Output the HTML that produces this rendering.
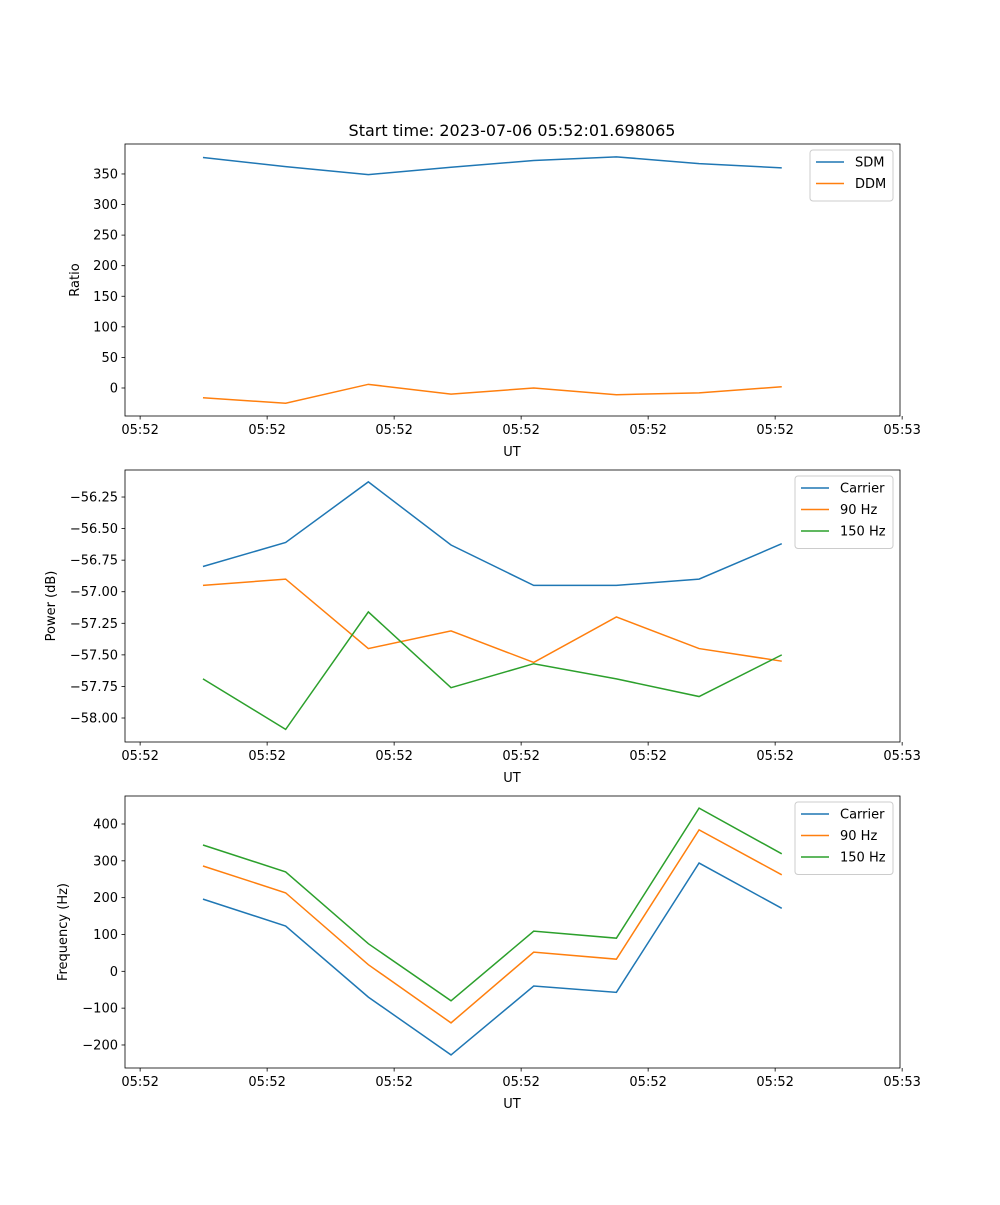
<!DOCTYPE html>
<html><head><meta charset="utf-8"><style>
body{margin:0;background:#fff;font-family:"Liberation Sans","DejaVu Sans",sans-serif;}
svg text{font-family:"DejaVu Sans","Liberation Sans",sans-serif;font-size:13px;fill:#000;}
</style></head><body>
<svg id="fig" width="1000" height="1200" xmlns="http://www.w3.org/2000/svg"></svg>
<script>
const xTickLabels=["05:52","05:52","05:52","05:52","05:52","05:52","05:53"];
const sdm=[377,362,349,361,372,378,367,360];
const ddm=[-16,-25,6,-10,0,-11,-8,2];
const pCarrier=[-56.80,-56.61,-56.13,-56.63,-56.95,-56.95,-56.90,-56.62];
const p90=[-56.95,-56.90,-57.45,-57.31,-57.56,-57.20,-57.45,-57.55];
const p150=[-57.69,-58.09,-57.16,-57.76,-57.57,-57.69,-57.83,-57.50];
const fCarrier=[196,123,-70,-227,-40,-57,294,171];
const f90=[286,213,18,-140,52,33,384,262];
const f150=[343,270,75,-80,109,90,443,319];
const ticks1=[0,50,100,150,200,250,300,350];
const ticks2=[-58.00,-57.75,-57.50,-57.25,-57.00,-56.75,-56.50,-56.25];
const ticks3=[-200,-100,0,100,200,300,400];
const NS="http://www.w3.org/2000/svg";
const svg=document.getElementById('fig');
function mk(t,a,p){const e=document.createElementNS(NS,t);for(const k in a)e.setAttribute(k,a[k]);(p||svg).appendChild(e);return e;}
const C=["#1f77b4","#ff7f0e","#2ca02c"];
const X0=125,X1=900,xmin=-0.943,xmax=8.43;
function xs(i){return X0+(i-xmin)/(xmax-xmin)*(X1-X0);}
function panel(name,top,ymin,ymax,ticks,fmt,ylabel,series,names,legW,ylabX){
  const bot=top+272;
  const g=mk('g',{});
  
  
  const ys=v=>bot-(v-ymin)/(ymax-ymin)*272;
  series.forEach((s,k)=>{
    const pl=mk('polyline',{points:s.map((v,i)=>xs(i)+','+ys(v)).join(' '),fill:'none',stroke:C[k],'stroke-width':1.5},g);
    
    
  });
  mk('rect',{x:X0,y:top,width:X1-X0,height:272,fill:'none',stroke:'#000','stroke-width':0.8},g);
  ticks.forEach(t=>{const y=ys(t);mk('line',{x1:X0-3.5,x2:X0,y1:y,y2:y,stroke:'#000','stroke-width':0.8},g);
    const tx=mk('text',{x:X0-7,y:y+4.5,'text-anchor':'end'},g);tx.textContent=fmt(t);
    });
  xTickLabels.forEach((l,j)=>{const x=xs(-0.76+j*1.536);mk('line',{x1:x,x2:x,y1:bot,y2:bot+3.5,stroke:'#000','stroke-width':0.8},g);
    const tx=mk('text',{x:x,y:bot+18,'text-anchor':'middle'},g);tx.textContent=l;
    });
  const xl=mk('text',{x:512,y:bot+40,'text-anchor':'middle'},g);xl.textContent='UT';
  
  const yl=mk('text',{x:ylabX,y:top+136,'text-anchor':'middle',transform:`rotate(-90 ${ylabX} ${top+136})`},g);yl.textContent=ylabel;
  
  const lx=893-legW,ly=top+6;
  const lg=mk('g',{},g);
  
  mk('rect',{x:lx,y:ly,width:legW,height:8+names.length*21.5,fill:'#fff',stroke:'#ccc',rx:3},lg);
  names.forEach((n,k)=>{const yy=ly+12+k*21.5;
    mk('line',{x1:lx+6,x2:lx+34,y1:yy,y2:yy,stroke:C[k],'stroke-width':1.5},lg);
    const t=mk('text',{x:lx+45,y:yy+4.5},lg);t.textContent=n;
    });
}
const tt=mk('text',{x:512,y:136,'text-anchor':'middle',style:'font-size:16px'});tt.textContent='Start time: 2023-07-06 05:52:01.698065';

panel('ratio-panel',144,-45.8,399,ticks1,v=>String(v),'Ratio',[sdm,ddm],['SDM','DDM'],83,79);
panel('power-panel',470,-58.19,-56.036,ticks2,v=>'\u2212'+Math.abs(v).toFixed(2),'Power (dB)',[pCarrier,p90,p150],['Carrier','90 Hz','150 Hz'],98,55);
panel('frequency-panel',796,-262.5,476,ticks3,v=>(v<0?'\u2212':'')+Math.abs(v),'Frequency (Hz)',[fCarrier,f90,f150],['Carrier','90 Hz','150 Hz'],98,67);
</script>
</body></html>
